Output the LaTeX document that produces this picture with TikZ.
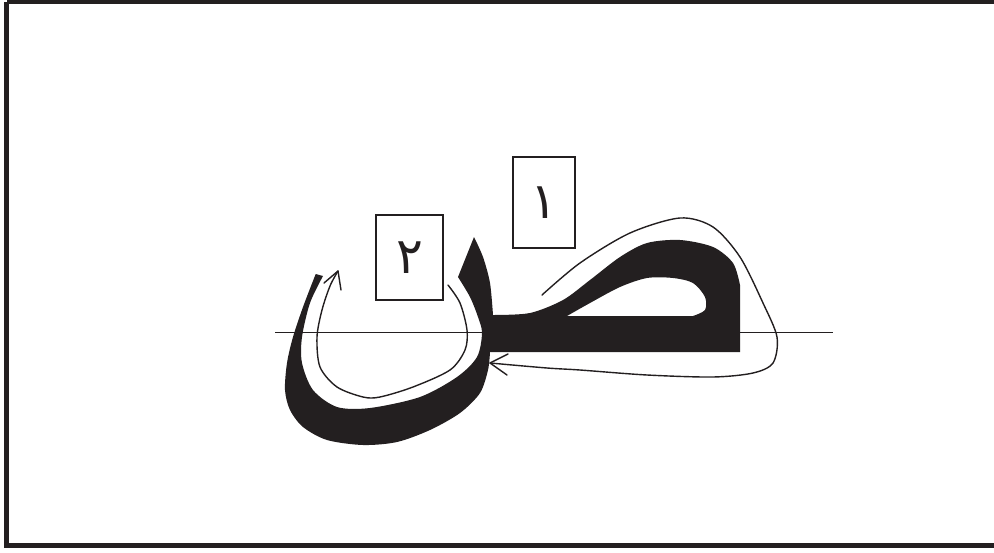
\documentclass[tikz,border=0pt]{standalone}
\usepackage{fontspec}
\newfontfamily\arabicfont[Script=Arabic]{DejaVu Sans}
\usetikzlibrary{arrows.meta}
\definecolor{ink}{HTML}{231F20}
\tikzset{
  numbox/.style={draw=ink, line width=1.5pt, minimum width=#1, inner sep=0pt, font=\arabicfont\fontsize{50}{56}\selectfont, text=ink},
  strokepath/.style={draw=ink, line width=1.4pt, line join=round, line cap=round},
}
\begin{document}
\begin{tikzpicture}[x=1pt,y=-1pt]
\useasboundingbox (0,0) rectangle (994,552);
% frame
\draw[ink, line width=5pt] (6.5,1.5) -- (6.5,545.5) -- (1010,545.5);
\draw[ink, line width=5pt] (6.5,1.5) -- (1010,1.5);
% letter body
\fill[ink, even odd rule] (315.7,274)
  -- plot[smooth] coordinates {(315.7,274) (303,307) (293,337) (287,363) (285,390) (290,410) (303,427) (327,440) (363,445) (397,442) (430,430) (460,413) (480,393) (488,370) (490,352)}
  -- (740,352) -- (740,285)
  -- plot[smooth] coordinates {(740,285) (733,263) (713,247) (680,240) (647,243) (620,257) (590,280) (563,300) (530,313) (493,315)}
  -- plot[smooth] coordinates {(493,315) (490,283) (483,257) (474,237)}
  -- (458,277)
  -- plot[smooth] coordinates {(458,277) (470,297) (478,317) (482,333) (477,357) (457,377) (420,397) (370,408) (337,407) (313,390) (302,363) (302,337) (310,303) (323,276)}
  -- cycle
  (567,316) -- plot[smooth] coordinates {(567,316) (590,303) (620,287) (647,278) (673,278) (693,283) (705,297) (705,310) (693,316)} -- cycle;
% baseline
\coordinate (bl) at (275,332.5);
\coordinate (br) at (833,332.5);
\draw[ink, line width=1.7pt] (bl) -- (br);
% stroke 1
\coordinate (t1) at (490,363);
\coordinate (t1a) at (508,354);
\coordinate (t1b) at (507,375);
\draw[strokepath] plot[smooth] coordinates {(542,295) (580,263) (630,233) (680,218) (713,227) (740,257) (763,303) (777,337) (773,363) (753,373) (713,377) (647,375) (580,370) (547,368) (490,363)};
\draw[strokepath] (t1a) -- (t1) -- (t1b);
% stroke 2
\coordinate (t2) at (338,271);
\coordinate (t2a) at (324,283);
\coordinate (t2b) at (341,290);
\draw[strokepath] plot[smooth] coordinates {(448,285) (460,303) (467,330) (465,350) (450,370) (413,387) (380,397) (363,397) (337,387) (320,367) (317,337) (322,310) (330,286) (338,271)};
\draw[strokepath] (t2a) -- (t2) -- (t2b);
% numbered boxes
\node[numbox=62pt, minimum height=91pt] (one) at (544,202.5) {١};
\node[numbox=67pt, minimum height=85pt] (two) at (409.5,257.5) {٢};
\end{tikzpicture}
\end{document}
